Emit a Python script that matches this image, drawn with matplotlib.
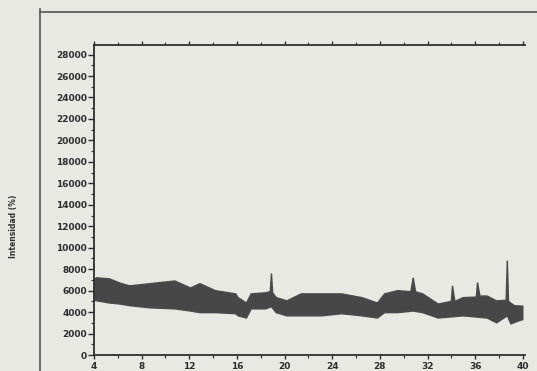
import numpy as np
import matplotlib
matplotlib.use('Agg')
import matplotlib.pyplot as plt
from matplotlib.lines import Line2D

# Envolvente superior de la traza (2theta, intensidad)
x_sup = [4.0, 4.2, 5.3, 6.2, 7.0, 8.7, 9.5, 10.8, 12.1, 12.9, 14.2, 15.9, 16.1, 16.8,
         17.2, 18.4, 18.8, 18.9, 19.0, 19.3, 20.2, 21.4, 23.1, 24.8, 26.5, 27.8, 28.4,
         29.5, 30.6, 30.8, 31.0, 31.6, 32.9, 34.0, 34.1, 34.3, 35.0, 36.1, 36.2, 36.4,
         37.0, 37.8, 38.6, 38.7, 38.8, 39.3, 40.0]
y_sup = [7000, 7200, 7100, 6700, 6450, 6650, 6750, 6900, 6250, 6650, 6000, 5700, 5350, 4850,
         5700, 5800, 5900, 7600, 5800, 5350, 5050, 5700, 5700, 5700, 5350, 4850, 5700,
         6000, 5900, 7200, 5900, 5700, 4750, 5000, 6450, 5000, 5350, 5400, 6750, 5500,
         5500, 5050, 5100, 8800, 5000, 4600, 4550]

# Envolvente inferior
x_inf = [4.0, 5.3, 6.2, 7.0, 8.7, 10.8, 12.1, 12.9, 14.2, 15.9, 16.1, 16.8, 17.2, 18.4,
         18.9, 19.3, 20.2, 21.4, 23.1, 24.8, 26.5, 27.8, 28.4, 29.5, 30.8, 31.6, 32.9,
         35.0, 37.0, 37.8, 38.7, 39.0, 39.7, 40.0]
y_inf = [5100, 4850, 4750, 4600, 4400, 4300, 4100, 3950, 3950, 3850, 3650, 3450, 4300, 4300,
         4500, 3950, 3650, 3650, 3650, 3850, 3650, 3450, 3950, 3950, 4100, 3950, 3450,
         3650, 3450, 3000, 3650, 2900, 3200, 3300]

xticks = [4, 8, 12, 16, 20, 24, 28, 32, 36, 40]
yticks = list(range(0, 28001, 2000))

papel = '#e9e9e4'
tinta = '#2e2e2e'

fig = plt.figure(figsize=(5.37, 3.71), dpi=100, facecolor=papel)
ax = fig.add_axes([0.175, 0.043, 0.803, 0.836], facecolor=papel)

xs = np.concatenate([x_sup, x_inf[::-1]])
ys = np.concatenate([y_sup, y_inf[::-1]])
ax.fill(xs, ys, color='#474747', lw=1.0, ec='#4a4a4a')

ax.set_xlim(4, 40.2)
ax.set_ylim(0, 28900)
ax.set_xticks(xticks)
ax.set_xticks(np.arange(4, 41, 2), minor=True)
ax.set_yticks(yticks)
ax.set_yticks(np.arange(0, 28001, 1000), minor=True)
ax.set_yticklabels([str(v) for v in yticks], fontsize=6.5, fontweight='bold', color=tinta)
ax.set_xticklabels([str(v) for v in xticks], fontsize=6.5, fontweight='bold', color=tinta)
ax.tick_params(axis='y', which='major', direction='out', length=4, width=1, colors=tinta, pad=1)
ax.tick_params(axis='y', which='minor', direction='out', length=2, width=0.8, colors=tinta)
ax.tick_params(axis='x', which='major', direction='out', length=3, width=1, colors=tinta, pad=2)
ax.tick_params(axis='x', which='minor', direction='out', length=2, width=0.8, colors=tinta)
ax.tick_params(axis='x', which='both', top=True)

ax.spines['right'].set_visible(False)
for s in ['left', 'bottom', 'top']:
    ax.spines[s].set_color(tinta)
    ax.spines[s].set_linewidth(1.3)

fig.text(0.026, 0.39, 'Intensidad (%)', rotation=90, fontsize=5.5, fontweight='bold',
         color=tinta, ha='center', va='center')

# bordes de la hoja escaneada
fig.add_artist(Line2D([0.075, 0.075], [0, 0.975], transform=fig.transFigure, color='#555555', lw=1.2))
fig.add_artist(Line2D([0.075, 1.0], [0.968, 0.968], transform=fig.transFigure, color='#555555', lw=1.2))

plt.savefig('out.png', dpi=100, facecolor=papel)
